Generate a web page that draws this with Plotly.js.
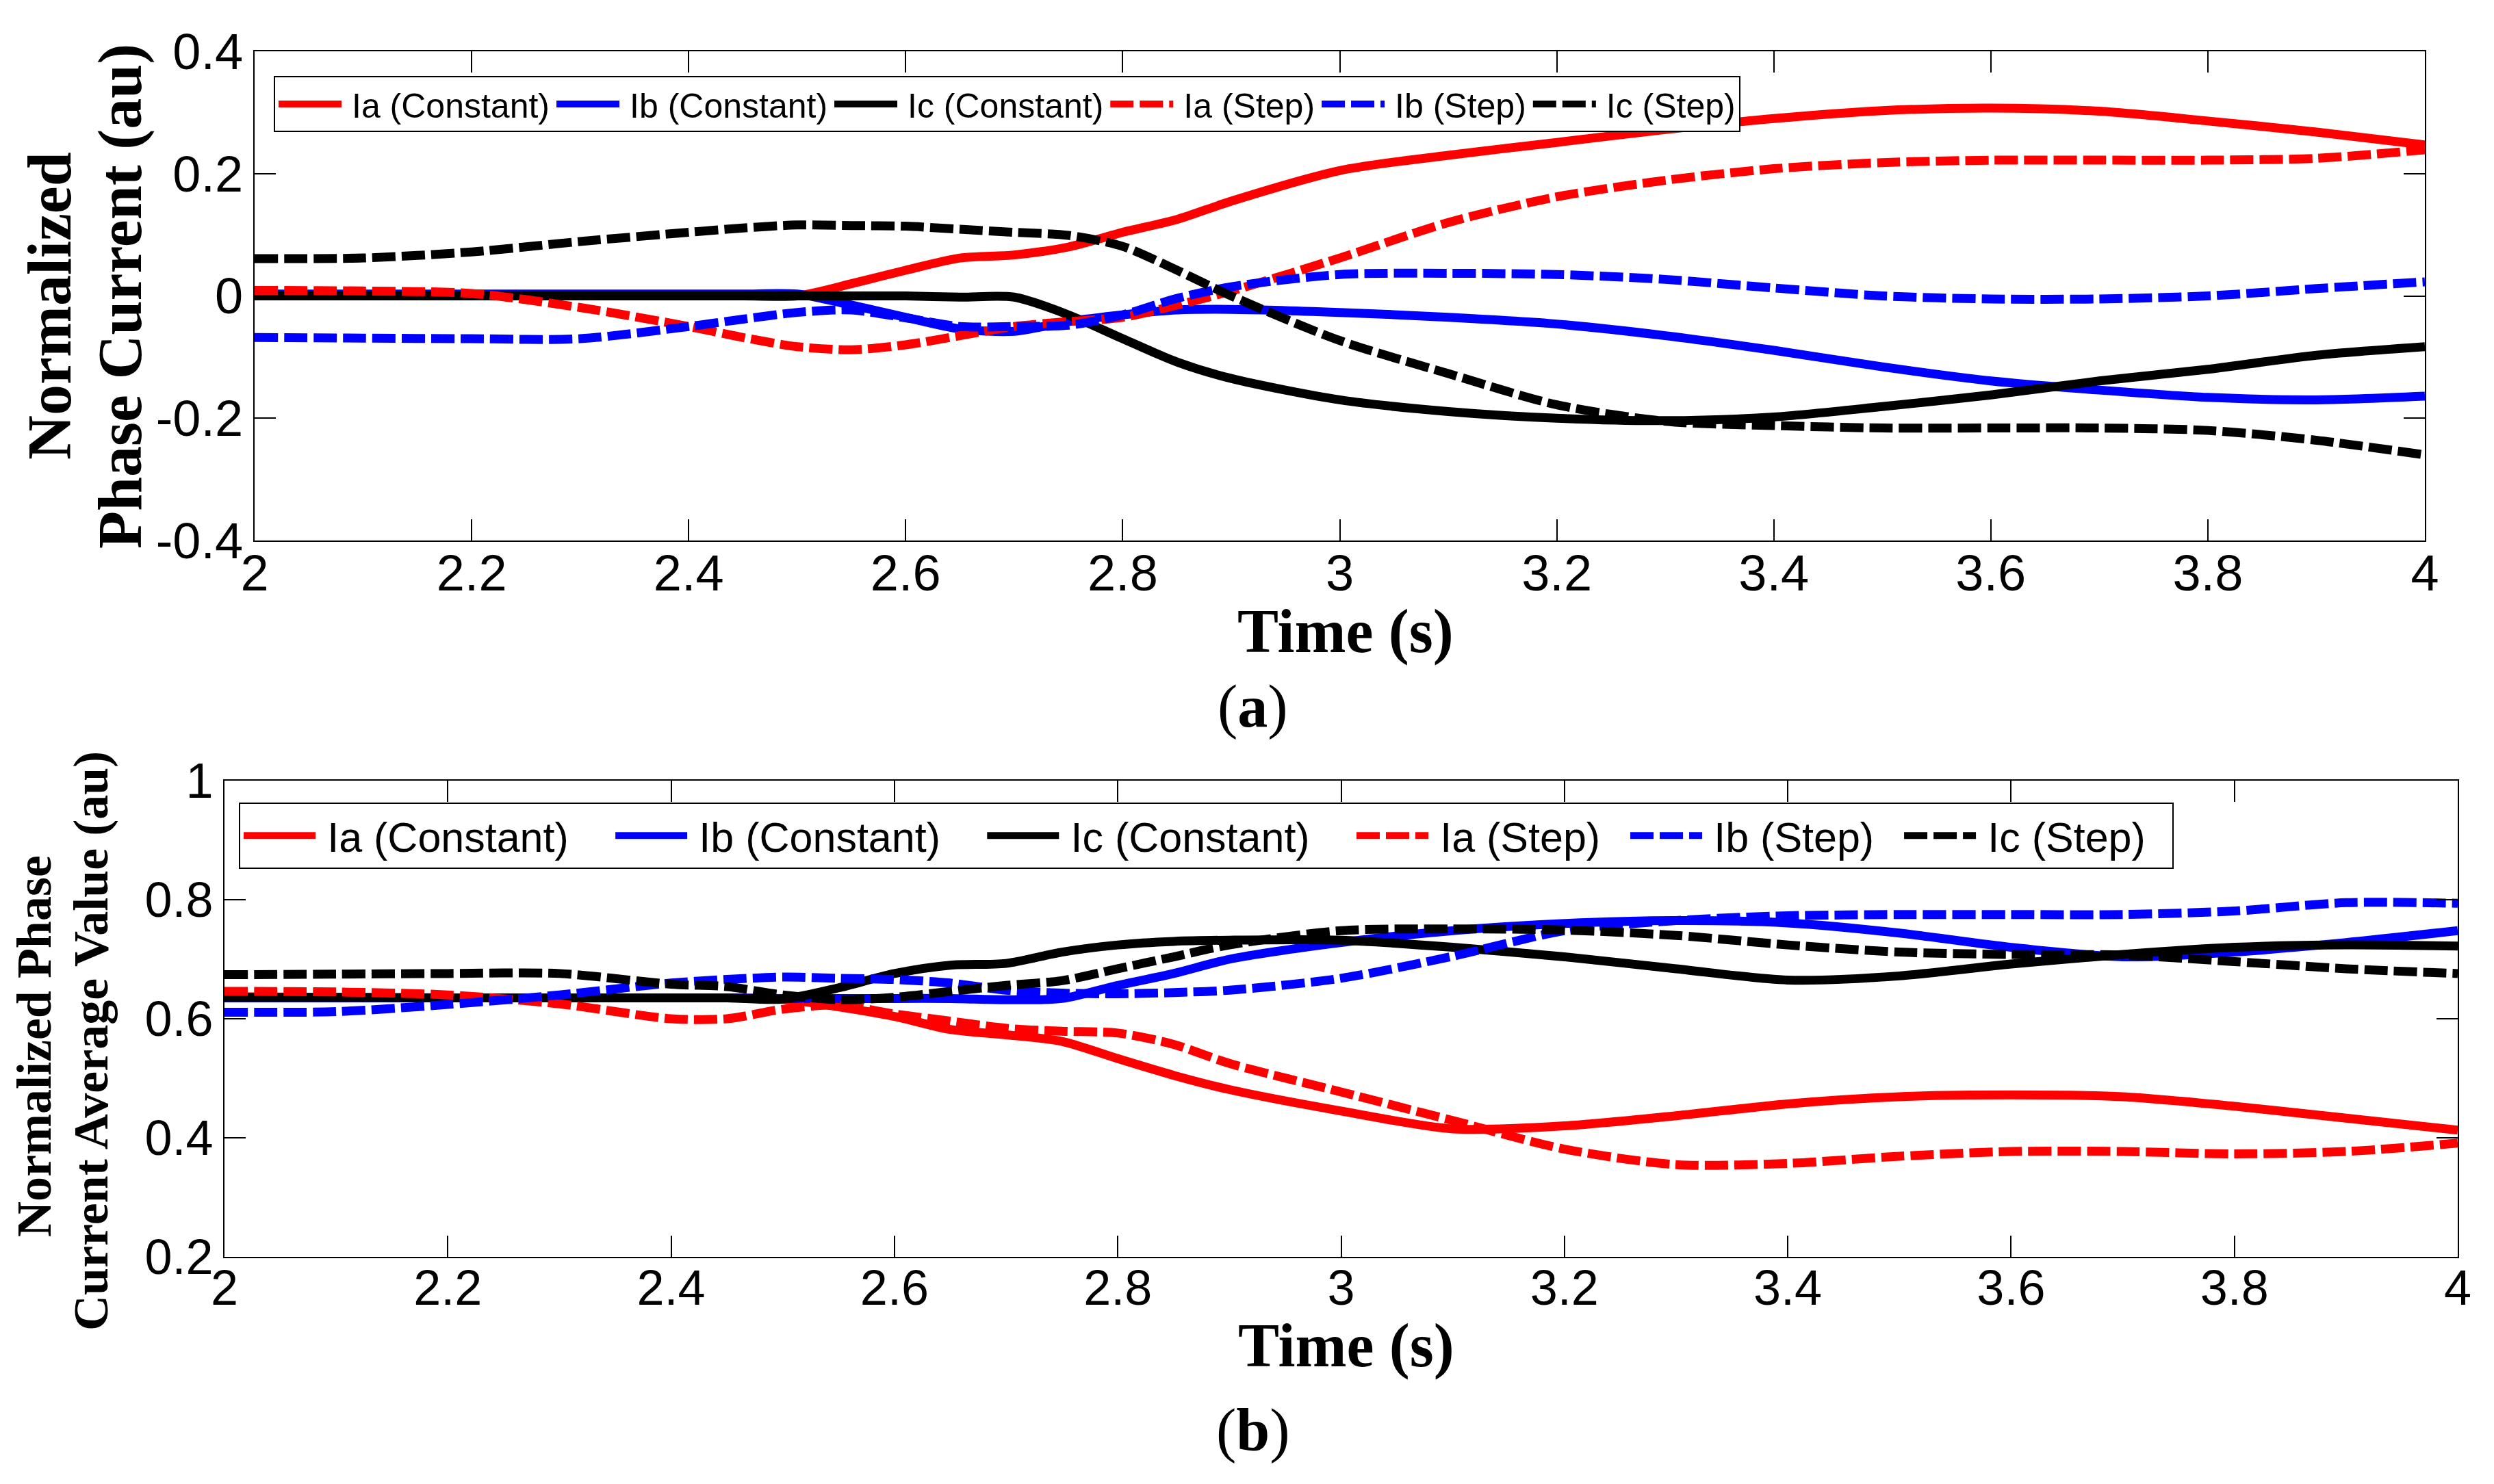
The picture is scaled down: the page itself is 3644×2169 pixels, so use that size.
<!DOCTYPE html>
<html>
<head>
<meta charset="utf-8">
<script src="https://cdn.plot.ly/plotly-3.0.1.min.js"></script>
<style>
  body { margin: 0; background: #fff; }
  #chart { width: 3644px; height: 2169px; }
</style>
</head>
<body>
<div id="chart"></div>
<script>
/* sample times (s) */
const time = [2.0, 2.1, 2.2, 2.3, 2.4, 2.45, 2.5, 2.55, 2.6, 2.65, 2.7, 2.75, 2.8, 2.85, 2.9,
              3.0, 3.1, 3.2, 3.3, 3.4, 3.5, 3.6, 3.7, 3.8, 3.9, 4.0];

/* (a) normalized phase current */
const iaConstA = [0.0, 0.0, 0.0, 0.0, 0.0, 0.0, 0.0, 0.02, 0.042, 0.062, 0.067, 0.08, 0.104, 0.125, 0.155,
                  0.205, 0.23, 0.251, 0.272, 0.29, 0.303, 0.307, 0.302, 0.286, 0.268, 0.247];
const ibConstA = [0.003, 0.003, 0.003, 0.003, 0.003, 0.003, 0.003, -0.015, -0.035, -0.054, -0.058, -0.042, -0.031, -0.023, -0.022,
                  -0.027, -0.035, -0.046, -0.065, -0.089, -0.116, -0.139, -0.154, -0.166, -0.17, -0.164];
const icConstA = [0.0, 0.0, 0.0, 0.0, 0.0, 0.0, 0.0, 0.0, 0.0, -0.002, -0.002, -0.031, -0.07, -0.108, -0.135,
                  -0.17, -0.189, -0.2, -0.204, -0.198, -0.181, -0.162, -0.139, -0.12, -0.097, -0.083];
const iaStepA = [0.009, 0.008, 0.004, -0.019, -0.05, -0.068, -0.083, -0.088, -0.08, -0.065, -0.05, -0.042, -0.035, -0.015, 0.008,
                 0.062, 0.12, 0.162, 0.189, 0.208, 0.218, 0.222, 0.222, 0.222, 0.225, 0.239];
const ibStepA = [-0.068, -0.069, -0.07, -0.07, -0.05, -0.038, -0.027, -0.023, -0.036, -0.05, -0.05, -0.048, -0.031, -0.004, 0.015,
                 0.035, 0.037, 0.035, 0.027, 0.013, 0.0, -0.005, -0.005, 0.0, 0.012, 0.023];
const icStepA = [0.061, 0.062, 0.072, 0.089, 0.104, 0.111, 0.116, 0.115, 0.114, 0.109, 0.104, 0.099, 0.081, 0.042, 0.0,
                 -0.073, -0.127, -0.178, -0.205, -0.212, -0.216, -0.216, -0.216, -0.22, -0.236, -0.26];

/* (b) normalized phase current average value */
const iaConstB = [0.637, 0.636, 0.635, 0.635, 0.635, 0.635, 0.633, 0.62, 0.604, 0.582, 0.573, 0.562, 0.533, 0.505, 0.481,
                  0.445, 0.415, 0.42, 0.437, 0.457, 0.469, 0.472, 0.469, 0.453, 0.433, 0.413];
const ibConstB = [0.635, 0.635, 0.635, 0.635, 0.635, 0.635, 0.634, 0.634, 0.634, 0.634, 0.632, 0.634, 0.656, 0.676, 0.7,
                  0.728, 0.748, 0.76, 0.765, 0.761, 0.744, 0.72, 0.704, 0.712, 0.728, 0.748];
const icConstB = [0.636, 0.636, 0.635, 0.635, 0.635, 0.635, 0.633, 0.652, 0.676, 0.69, 0.693, 0.712, 0.724, 0.73, 0.732,
                  0.732, 0.72, 0.704, 0.684, 0.665, 0.672, 0.692, 0.708, 0.72, 0.724, 0.722];
const iaStepB = [0.646, 0.645, 0.64, 0.625, 0.6, 0.6, 0.616, 0.623, 0.608, 0.596, 0.584, 0.579, 0.576, 0.557, 0.525,
                 0.477, 0.429, 0.381, 0.355, 0.357, 0.369, 0.377, 0.377, 0.373, 0.377, 0.391];
const ibStepB = [0.611, 0.612, 0.624, 0.64, 0.66, 0.666, 0.67, 0.668, 0.666, 0.66, 0.648, 0.643, 0.642, 0.644, 0.648,
                 0.668, 0.705, 0.748, 0.765, 0.773, 0.775, 0.775, 0.775, 0.781, 0.795, 0.794];
const icStepB = [0.674, 0.675, 0.676, 0.676, 0.658, 0.654, 0.64, 0.632, 0.636, 0.646, 0.656, 0.664, 0.684, 0.704, 0.724,
                 0.748, 0.751, 0.749, 0.74, 0.724, 0.712, 0.708, 0.707, 0.696, 0.684, 0.676];

/* tick labels */
const xTicks = [2, 2.2, 2.4, 2.6, 2.8, 3, 3.2, 3.4, 3.6, 3.8, 4];
const xTickText = ["2", "2.2", "2.4", "2.6", "2.8", "3", "3.2", "3.4", "3.6", "3.8", "4"];
const yTicksA = [-0.4, -0.2, 0, 0.2, 0.4];
const yTickTextA = ["-0.4", "-0.2", "0", "0.2", "0.4"];
const yTicksB = [0.2, 0.4, 0.6, 0.8, 1];
const yTickTextB = ["0.2", "0.4", "0.6", "0.8", "1"];

const names = ["Ia (Constant)", "Ib (Constant)", "Ic (Constant)", "Ia (Step)", "Ib (Step)", "Ic (Step)"];
const colors = ["#ff0000", "#0000ff", "#000000", "#ff0000", "#0000ff", "#000000"];

const DASH = "34px,9px";
const SERIF = "Liberation Serif, Times New Roman, serif";
const SANS = "Liberation Sans, Arial, sans-serif";

// legend entries in (b) sit further apart, pad them out
const padA = (s) => "\u2009" + s;
const padB = (s, i) => "\u2009" + s + (i < 3 ? "\u00a0\u00a0\u2009\u2009" : "\u00a0\u00a0");

const line = (y, i, xa, ya, leg, pad) => ({
  x: time,
  y: y,
  name: pad(names[i], i),
  type: "scatter",
  mode: "lines",
  xaxis: xa,
  yaxis: ya,
  legend: leg,
  line: { color: colors[i], width: 13, shape: "spline", smoothing: 0.8, dash: i < 3 ? "solid" : DASH },
});

const seriesA = [iaConstA, ibConstA, icConstA, iaStepA, ibStepA, icStepA];
const seriesB = [iaConstB, ibConstB, icConstB, iaStepB, ibStepB, icStepB];

const data = [
  ...seriesA.map((y, i) => line(y, i, "x", "y", "legend", padA)),
  ...seriesB.map((y, i) => line(y, i, "x2", "y2", "legend2", padB)),
];

// px -> paper fraction
const W = 3644, H = 2169;
const px = (v) => v / W;
const py = (v) => 1 - v / H;

const axisBase = {
  showgrid: false,
  zeroline: false,
  showline: true,
  linecolor: "#000",
  linewidth: 2,
  mirror: "ticks",
  ticks: "inside",
  ticklen: 31,
  tickwidth: 2,
  tickcolor: "#000",
  tickmode: "array",
};

const legendBase = {
  orientation: "h",
  xanchor: "left",
  yanchor: "top",
  bgcolor: "#fff",
  bordercolor: "#000",
  borderwidth: 2,
};

const annot = (text, x, y, size, angle) => ({
  text: text,
  x: px(x),
  y: py(y),
  xref: "paper",
  yref: "paper",
  showarrow: false,
  xanchor: "center",
  yanchor: "middle",
  textangle: angle || 0,
  font: { family: SERIF, size: size, color: "#000" },
});

const layout = {
  width: W,
  height: H,
  margin: { l: 0, r: 0, t: 0, b: 0 },
  paper_bgcolor: "#fff",
  plot_bgcolor: "#fff",
  font: { family: SANS, color: "#000" },
  xaxis: Object.assign({}, axisBase, {
    domain: [px(372), px(3543)], range: [2, 4], anchor: "y",
    tickvals: xTicks, ticktext: xTickText, tickfont: { size: 74 }, ticklabelstandoff: -18,
  }),
  yaxis: Object.assign({}, axisBase, {
    domain: [py(790), py(75)], range: [-0.4, 0.4], anchor: "x",
    tickvals: yTicksA, ticktext: yTickTextA, tickfont: { size: 74 },
  }),
  xaxis2: Object.assign({}, axisBase, {
    domain: [px(328), px(3591)], range: [2, 4], anchor: "y2",
    tickvals: xTicks, ticktext: xTickText, tickfont: { size: 72 }, ticklabelstandoff: -18,
  }),
  yaxis2: Object.assign({}, axisBase, {
    domain: [py(1837), py(1141)], range: [0.2, 1], anchor: "x2",
    tickvals: yTicksB, ticktext: yTickTextB, tickfont: { size: 72 },
  }),
  legend: Object.assign({}, legendBase, {
    x: px(400), y: py(111), font: { family: SANS, size: 50 }, itemwidth: 92,
  }),
  legend2: Object.assign({}, legendBase, {
    x: px(349), y: py(1173), font: { family: SANS, size: 61 }, itemwidth: 105,
  }),
  annotations: [
    annot("<b>Normalized</b>", 73, 447, 90, -90),
    annot("<b>Phase Current (au)</b>", 176, 433, 90, -90),
    annot("<b>Time (s)</b>", 1966, 923, 90),
    annot("(<b>a</b>)", 1831, 1032, 88),
    annot("<b>Normalized Phase</b>", 50, 1529, 72, -90),
    annot("<b>Current Average Value (au)</b>", 133, 1522, 72, -90),
    annot("<b>Time (s)</b>", 1967, 1967, 90),
    annot("(<b>b</b>)", 1831, 2090, 88),
  ],
};

Plotly.newPlot("chart", data, layout, { staticPlot: true });
</script>
</body>
</html>
